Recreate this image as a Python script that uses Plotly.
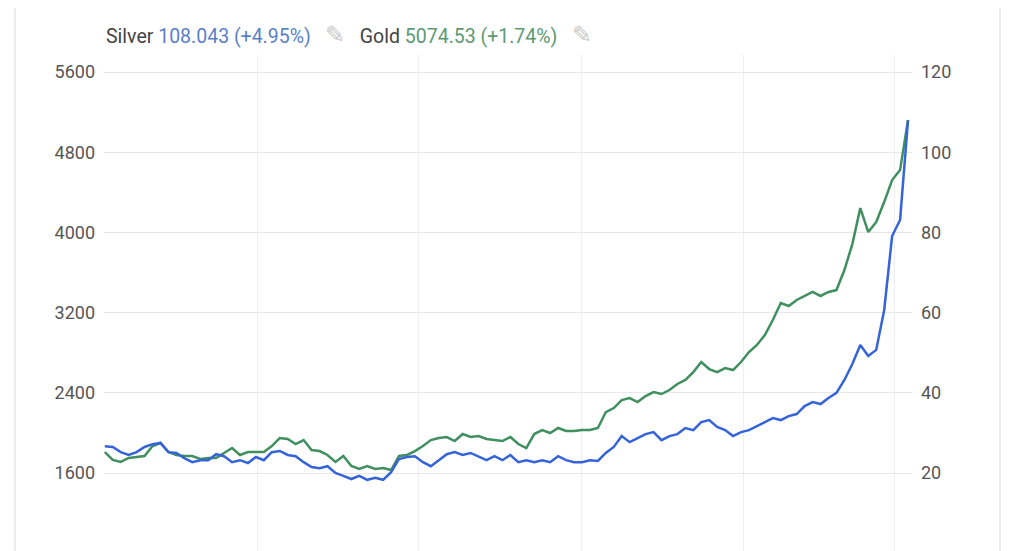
import plotly.graph_objects as go

# weekly-ish samples
silver = [26.7, 26.5, 25.2, 24.5, 25.2, 26.5, 27.2, 27.5, 25.2, 25.0, 23.7, 22.7, 23.2, 23.2, 24.7, 24.2,
          22.7, 23.2, 22.5, 24.0, 23.2, 25.2, 25.5, 24.5, 24.2, 22.7, 21.5, 21.2, 21.7, 20.0, 19.3, 18.5,
          19.3, 18.3, 18.8, 18.3, 20.2, 23.5, 24.0, 24.2, 22.7, 21.7, 23.2, 24.7, 25.2, 24.5, 25.0, 24.2,
          23.2, 24.2, 23.2, 24.5, 22.7, 23.2, 22.7, 23.2, 22.7, 24.2, 23.2, 22.7, 22.7, 23.2, 23.0, 25.0,
          26.5, 29.2, 27.7, 28.7, 29.7, 30.2, 28.2, 29.2, 29.7, 31.2, 30.7, 32.7, 33.2, 31.5, 30.7, 29.2,
          30.2, 30.7, 31.7, 32.5, 33.7, 33.2, 34.2, 34.7, 36.7, 37.7, 37.2, 38.7, 40.0, 43.2, 47.2, 51.9,
          49.2, 50.7, 60.6, 79.1, 83.1, 108.0]
gold = [1809, 1730, 1710, 1750, 1760, 1770, 1869, 1899, 1809, 1780, 1770, 1770, 1740, 1750, 1750, 1800,
        1849, 1780, 1809, 1809, 1809, 1869, 1949, 1939, 1889, 1929, 1829, 1819, 1780, 1710, 1770, 1670,
        1640, 1670, 1640, 1650, 1630, 1770, 1780, 1819, 1869, 1929, 1949, 1959, 1919, 1989, 1959, 1969,
        1939, 1929, 1919, 1959, 1889, 1849, 1989, 2029, 1999, 2049, 2019, 2019, 2029, 2029, 2049, 2208,
        2248, 2328, 2348, 2308, 2368, 2408, 2388, 2428, 2488, 2528, 2607, 2707, 2637, 2607, 2647, 2627,
        2707, 2807, 2877, 2977, 3126, 3296, 3266, 3326, 3366, 3406, 3366, 3406, 3425, 3625, 3884, 4243,
        4004, 4104, 4303, 4523, 4622, 5122]
x = list(range(len(gold)))
left_ticks = [1600, 2400, 3200, 4000, 4800, 5600]
right_ticks = [20, 40, 60, 80, 100, 120]
grid_x = [-1, 19.25, 39.5, 59.9, 80.25, 99.25]

blue = '#3563d8'
green = '#3f8f5f'
font = 'Roboto, sans-serif'

fig = go.Figure()
fig.add_trace(go.Scatter(x=x, y=gold, mode='lines', line=dict(color=green, width=2.5), yaxis='y'))
fig.add_trace(go.Scatter(x=x, y=silver, mode='lines', line=dict(color=blue, width=2.5), yaxis='y2'))

fig.update_layout(
    width=1016, height=543,
    margin=dict(l=96, r=112, t=47, b=0),
    plot_bgcolor='white', paper_bgcolor='white',
    showlegend=False,
    font=dict(family=font, size=18, color='#555'),
    xaxis=dict(range=[-0.1, 101.5], tickvals=grid_x, showticklabels=False,
               showgrid=True, gridcolor='#eeeeee', zeroline=False),
    yaxis=dict(range=[822, 5770], tickvals=left_ticks, showgrid=True, gridcolor='#e8e8e8',
               zeroline=False, ticks='', ticklabelstandoff=8),
    yaxis2=dict(range=[0.55, 124.25], tickvals=right_ticks, overlaying='y', side='right',
                showgrid=False, zeroline=False, ticklabelstandoff=8),
    shapes=[dict(type='line', xref='paper', yref='paper', x0=xx, x1=xx, y0=0, y1=1.12,
                 line=dict(color='#e6e6e6', width=1.5)) for xx in [(15 - 104) / 808, (1000 - 104) / 808]],
)
fig.add_annotation(
    xref='paper', yref='paper', x=0, y=1.04, xanchor='left', yanchor='middle', showarrow=False,
    text=(f"<span style='color:#444'>Silver</span> <span style='color:#5b7fc9'>108.043 (+4.95%)</span>"
          f"   <span style='color:#c8c8c8;font-size:24px'>✎</span>   "
          f"<span style='color:#444'>Gold</span> <span style='color:#5c9a72'>5074.53 (+1.74%)</span>"
          f"   <span style='color:#c8c8c8;font-size:24px'>✎</span>"),
    font=dict(family=font, size=19.5),
)

fig.write_html("out.html")
